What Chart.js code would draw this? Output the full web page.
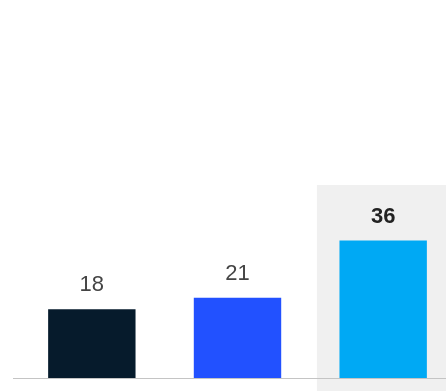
<!DOCTYPE html>
<html>
<head>
<meta charset="utf-8">
<script src="https://cdn.jsdelivr.net/npm/chart.js@4/dist/chart.umd.min.js"></script>
<style>
  html, body { margin: 0; padding: 0; background: #ffffff; }
  body { width: 446px; height: 391px; overflow: hidden; }
  #wrap { width: 470px; height: 391px; position: relative; }
</style>
</head>
<body>
<div id="wrap"><canvas id="chart"></canvas></div>
<script>
// Chart data
const categories = ['A', 'B', 'C'];
const values = [18, 21, 36];
const barColors = ['#061b2c', '#2251ff', '#00a9f4'];
const highlightIndex = 2;

// Grey band behind the highlighted column, plus the baseline rule
const backdropPlugin = {
  id: 'backdrop',
  beforeDatasetsDraw(chart) {
    const { ctx, chartArea, scales } = chart;
    const x = scales.x, y = scales.y;
    const step = x.getPixelForValue(1) - x.getPixelForValue(0);
    const cx = x.getPixelForValue(highlightIndex);
    ctx.save();
    ctx.fillStyle = '#f0f0f0';
    ctx.fillRect(cx - step * 0.455, chartArea.top - 2, step * 0.91, chart.height - chartArea.top + 2);
    ctx.strokeStyle = '#c4c4c4';
    ctx.lineWidth = 1;
    const y0 = Math.round(y.getPixelForValue(0)) + 0.5;
    ctx.beginPath();
    ctx.moveTo(chartArea.left - 6, y0);
    ctx.lineTo(chart.width, y0);
    ctx.stroke();
    ctx.restore();
  }
};

// Value labels above each bar
const valueLabelPlugin = {
  id: 'valueLabels',
  afterDatasetsDraw(chart) {
    const { ctx } = chart;
    const meta = chart.getDatasetMeta(0);
    ctx.save();
    ctx.textAlign = 'center';
    ctx.textBaseline = 'middle';
    meta.data.forEach((bar, i) => {
      const strong = i === highlightIndex;
      ctx.font = (strong ? 'bold ' : '') + '22px "Liberation Sans", Arial, sans-serif';
      ctx.fillStyle = strong ? '#222222' : '#444444';
      ctx.fillText(String(values[i]), bar.x, bar.y - 24);
    });
    ctx.restore();
  }
};

new Chart(document.getElementById('chart'), {
  type: 'bar',
  data: {
    labels: categories,
    datasets: [{
      data: values,
      backgroundColor: barColors,
      borderWidth: 0,
      barPercentage: 0.6,
      categoryPercentage: 1.0
    }]
  },
  options: {
    responsive: true,
    maintainAspectRatio: false,
    animation: false,
    layout: { padding: { left: 19, right: 14, top: 187, bottom: 13 } },
    plugins: { legend: { display: false }, tooltip: { enabled: false } },
    scales: {
      x: { display: false, offset: true },
      y: { display: false, min: 0, max: 50 }
    }
  },
  plugins: [backdropPlugin, valueLabelPlugin]
});
</script>
</body>
</html>
